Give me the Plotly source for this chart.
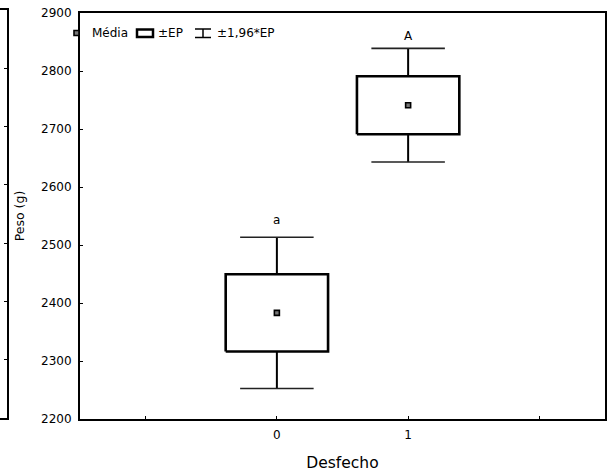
import plotly.graph_objects as go

# ---- data ----
categories = [0, 1]
means = [2383, 2741]
se = [66.5, 50.0]
ci_factor = 1.96
group_letters = ["a", "A"]
letter_y = [2528, 2845]
y_ticks = [2200, 2300, 2400, 2500, 2600, 2700, 2800, 2900]
x_ticks = [-1, 0, 1, 2]
x_ticklabels = ["", "0", "1", ""]

W, H = 610, 473
FONT = "DejaVu Sans, Liberation Sans, Arial, sans-serif"

def px(x):
    return x / W

def py(y):
    return 1 - y / H

box_hw = 0.39
cap_hw = 0.28

fig = go.Figure()

# boxes (mean ± SE) and whiskers (mean ± 1.96*SE)
bx, by = [], []
wx, wy = [], []
cx, cy = [], []
for c, m, s in zip(categories, means, se):
    lo, hi = m - s, m + s
    wlo, whi = m - ci_factor * s, m + ci_factor * s
    bx += [c - box_hw, c + box_hw, c + box_hw, c - box_hw, c - box_hw, None]
    by += [lo, lo, hi, hi, lo, None]
    wx += [c, c, None, c, c, None]
    wy += [hi, whi, None, lo, wlo, None]
    cx += [c - cap_hw, c + cap_hw, None, c - cap_hw, c + cap_hw, None]
    cy += [whi, whi, None, wlo, wlo, None]

fig.add_trace(go.Scatter(x=wx, y=wy, mode="lines", line=dict(color="black", width=2),
                         showlegend=False, hoverinfo="skip"))
fig.add_trace(go.Scatter(x=cx, y=cy, mode="lines", line=dict(color="#222", width=1.6),
                         showlegend=False, hoverinfo="skip"))
fig.add_trace(go.Scatter(x=bx, y=by, mode="lines", line=dict(color="black", width=2.6),
                         showlegend=False, hoverinfo="skip"))
fig.add_trace(go.Scatter(x=categories, y=means, mode="markers",
                         marker=dict(symbol="square", size=5, color="#777",
                                     line=dict(color="black", width=1.6)),
                         showlegend=False))

# group letters
for c, t, ly in zip(categories, group_letters, letter_y):
    fig.add_annotation(x=c, y=ly, xref="x", yref="y", text=t, showarrow=False,
                       yanchor="bottom", font=dict(size=12, color="black", family=FONT))

# neighbouring panel fragment (axes only)
fig.add_trace(go.Scatter(x=[None], y=[None], xaxis="x2", yaxis="y2", showlegend=False))

# manual legend
shapes = []
shapes.append(dict(type="rect", xref="paper", yref="paper",
                   x0=px(74), x1=px(79), y0=py(35.5), y1=py(30.5),
                   fillcolor="#777", line=dict(color="black", width=1.6)))
shapes.append(dict(type="rect", xref="paper", yref="paper",
                   x0=px(137), x1=px(153), y0=py(37), y1=py(29.5),
                   fillcolor="white", line=dict(color="black", width=2.5)))
for yy in (29, 37.5):
    shapes.append(dict(type="line", xref="paper", yref="paper",
                       x0=px(195), x1=px(211), y0=py(yy), y1=py(yy),
                       line=dict(color="black", width=1.5)))
shapes.append(dict(type="line", xref="paper", yref="paper",
                   x0=px(203), x1=px(203), y0=py(29), y1=py(37.5),
                   line=dict(color="black", width=1.5)))
for xx, t in ((90, "Média"), (156, "±EP"), (215, "±1,96*EP")):
    fig.add_annotation(x=px(xx), y=py(33), xref="paper", yref="paper", text=t,
                       showarrow=False, xanchor="left", yanchor="middle",
                       font=dict(size=12, color="black", family=FONT))

axis_common = dict(showline=True, linecolor="black", linewidth=2, mirror=True,
                   ticks="inside", ticklen=3, tickwidth=1, tickcolor="black",
                   showgrid=False, zeroline=False,
                   tickfont=dict(size=12, color="black", family=FONT))

fig.update_layout(
    width=W, height=H,
    margin=dict(l=0, r=0, t=0, b=0, autoexpand=False),
    paper_bgcolor="white", plot_bgcolor="white",
    shapes=shapes,
    showlegend=False,
    xaxis=dict(domain=[80 / W, 605 / W], range=[-1.5, 2.5], tickvals=x_ticks,
               ticktext=x_ticklabels, ticklabelstandoff=4,
               title=dict(text="Desfecho", font=dict(size=15.5, color="black", family=FONT),
                          standoff=16),
               **axis_common),
    yaxis=dict(domain=[1 - 419 / H, 1 - 13 / H], range=[2200, 2900], tickvals=y_ticks,
               ticklabelstandoff=4,
               title=dict(text="Peso (g)", font=dict(size=12.5, color="black", family=FONT),
                          standoff=14),
               **axis_common),
    xaxis2=dict(domain=[0, 7 / W], range=[0, 1], showline=True, linecolor="black",
                linewidth=2, mirror=True, ticks="", showticklabels=False,
                showgrid=False, zeroline=False, anchor="y2"),
    yaxis2=dict(domain=[1 - 418 / H, 1 - 10 / H], range=[2200, 2900], tickvals=y_ticks,
                side="right", anchor="x2", showline=True, linecolor="black", linewidth=2,
                mirror=False, ticks="inside", ticklen=3, tickcolor="black",
                showticklabels=False, showgrid=False, zeroline=False),
    font=dict(family=FONT, color="black"),
)

fig.write_html("out.html", config={"displayModeBar": False},
               post_script="document.body.style.margin='0';")
